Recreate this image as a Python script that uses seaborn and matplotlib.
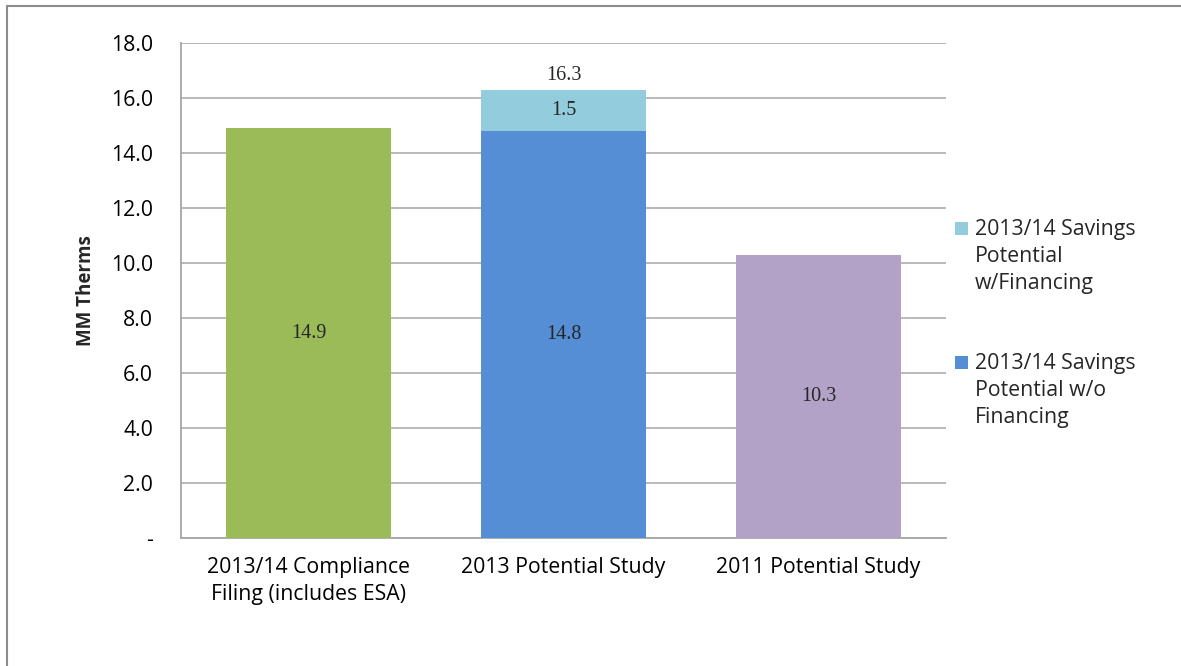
import numpy as np
import pandas as pd
import matplotlib.pyplot as plt
import seaborn as sns
from matplotlib.patches import Rectangle
from matplotlib.lines import Line2D

# Data
categories = ['2013/14 Compliance\nFiling (includes ESA)', '2013 Potential Study', '2011 Potential Study']
base_values = [14.9, 14.8, 10.3]
financing_values = [0.0, 1.5, 0.0]
base_colors = ['#9BBB59', '#558ED5', '#B3A2C7']
financing_color = '#93CDDD'
legend_labels = ['2013/14 Savings\nPotential\nw/Financing', '2013/14 Savings\nPotential w/o\nFinancing']
legend_colors = [financing_color, base_colors[1]]
y_ticks = [0, 2, 4, 6, 8, 10, 12, 14, 16, 18]
y_tick_labels = ['-'] + [f'{v:.1f}' for v in y_ticks[1:]]

df = pd.DataFrame({'category': categories, 'base': base_values, 'financing': financing_values})
df['total'] = df['base'] + df['financing']

sns.set_style('white')
plt.rcParams['font.family'] = ['Open Sans', 'DejaVu Sans']

W, H = 1181, 666
fig = plt.figure(figsize=(W / 100, H / 100), dpi=100)
ax = fig.add_axes([181 / W, 1 - 538 / H, 765 / W, 495 / H])

# stacked: totals behind, base on top
total_colors = [financing_color if f > 0 else c for f, c in zip(financing_values, base_colors)]
sns.barplot(data=df, x='category', y='total', hue='category', palette=total_colors,
            width=0.647, saturation=1, legend=False, ax=ax, zorder=3, linewidth=0)
sns.barplot(data=df, x='category', y='base', hue='category', palette=base_colors,
            width=0.647, saturation=1, legend=False, ax=ax, zorder=3, linewidth=0)

ax.set_ylim(0, 18)
ax.set_xlim(-0.5, 2.5)
ax.set_yticks(y_ticks)
ax.set_yticklabels(y_tick_labels)
ax.yaxis.grid(True, color='#A6A6A6', linewidth=1.1, zorder=0)
ax.set_axisbelow(True)
ax.tick_params(axis='both', length=0, labelsize=15.3, colors='black')
ax.tick_params(axis='y', pad=20)
ax.tick_params(axis='x', pad=14)
for lbl in ax.get_xticklabels():
    lbl.set_linespacing(1.35)
for side in ['top', 'right']:
    ax.spines[side].set_visible(False)
for side in ['left', 'bottom']:
    ax.spines[side].set_color('#A6A6A6')
    ax.spines[side].set_linewidth(1.3)
ax.set_xlabel('')
ax.set_ylabel('MM Therms', fontsize=13.5, fontweight='bold')
ax.yaxis.set_label_coords((96 - 181) / 765, 0.5)

# data labels
serif = ['Liberation Serif', 'DejaVu Serif']
for i, row in df.iterrows():
    ax.text(i, row['base'] / 2, f"{row['base']:.1f}", ha='center', va='center',
            fontsize=14.5, family=serif)
    if row['financing'] > 0:
        ax.text(i, row['base'] + row['financing'] / 2, f"{row['financing']:.1f}",
                ha='center', va='center', fontsize=14.5, family=serif)
        ax.text(i, row['total'] + 0.5, f"{row['total']:.1f}", ha='center', va='center',
                fontsize=14.5, family=serif)

# legend, handle aligned with the first line of each label
for k, (lab, col) in enumerate(zip(legend_labels, legend_colors)):
    y_top = 222 + k * 134
    fig.add_artist(Rectangle((955 / W, 1 - (y_top + 13) / H), 13 / W, 13 / H,
                             facecolor=col, edgecolor='none', transform=fig.transFigure))
    fig.text(975 / W, 1 - (y_top - 3) / H, lab, ha='left', va='top', fontsize=15.3,
             linespacing=1.37)

# outer border (left and top)
fig.add_artist(Line2D([0.006, 0.006], [0, 0.991], color='#8C8C8C', linewidth=1.5))
fig.add_artist(Line2D([0.006, 1.0], [0.991, 0.991], color='#8C8C8C', linewidth=1.5))

fig.savefig('out.png', dpi=100)
